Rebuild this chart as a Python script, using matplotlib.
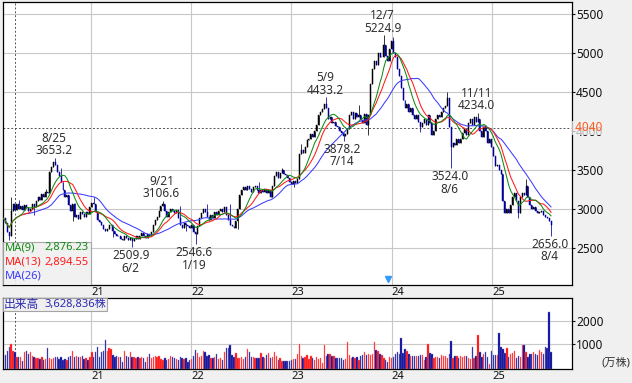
import numpy as np
import pandas as pd
import matplotlib
matplotlib.use('Agg')
import matplotlib.pyplot as plt
import matplotlib.transforms as mtransforms
from matplotlib.patches import Rectangle

plt.rcParams['font.family'] = ['Noto Sans', 'Noto Sans CJK JP']

# 週足データ（2020-02-17 週〜2025-08-04 週）
start = '2020-02-17'
close = [
    2880, 2820, 2700, 2660, 2980, 3060, 2990, 3060, 3000, 3040,
    2990, 3050, 3010, 2970, 3000, 3060, 3020, 3100, 3150, 3120,
    3190, 3160, 3220, 3200, 3480, 3540, 3600, 3570, 3480, 3420,
    3350, 3250, 3150, 3180, 3050, 2980, 3060, 2900, 2920, 2870,
    2960, 2930, 2900, 2960, 2940, 3020, 3080, 3060, 2960, 2860,
    2830, 2800, 2740, 2720, 2740, 2790, 2800, 2720, 2680, 2650,
    2660, 2620, 2600, 2660, 2630, 2600, 2630, 2590, 2620, 2660,
    2620, 2660, 2690, 2650, 2630, 2680, 2650, 2700, 2800, 2860,
    2900, 2980, 3040, 3060, 2980, 2900, 2960, 3000, 2980, 2950,
    2990, 2880, 2800, 2760, 2820, 2790, 2780, 2760, 2800, 2700,
    2680, 2780, 2880, 2950, 3000, 2960, 2900, 2860, 2920, 2880,
    2960, 2920, 2980, 3000, 2960, 3020, 2920, 2860, 2800, 2780,
    2760, 2850, 3000, 3180, 3240, 3280, 3250, 3300, 3260, 3220,
    3280, 3300, 3240, 3200, 3250, 3220, 3260, 3200, 3240, 3160,
    3300, 3420, 3480, 3400, 3460, 3500, 3450, 3440, 3400, 3350,
    3320, 3360, 3340, 3380, 3700, 3760, 3720, 3800, 3880, 3900,
    3960, 3920, 4000, 4080, 4200, 4250, 4280, 4350, 4300, 4150,
    4180, 4100, 4120, 4060, 4050, 4000, 3980, 3930, 3960, 4020,
    4200, 4250, 4160, 4230, 4180, 4200, 4140, 4100, 4220, 4080,
    4200, 4600, 4800, 4900, 4850, 5000, 4950, 4950, 5100, 4960,
    4900, 5050, 5150, 5000, 4950, 4800, 4700, 4550, 4400, 4300,
    4350, 4250, 4300, 4200, 4150, 4200, 4120, 4050, 4100, 4150,
    4080, 4200, 4100, 3950, 4000, 4150, 4200, 4180, 4250, 4300,
    4320, 4420, 4050, 3800, 3850, 3820, 3900, 3850, 3900, 3980,
    4020, 3950, 4100, 4150, 4080, 4180, 4120, 4150, 4000, 3920,
    4050, 4000, 3850, 3900, 3800, 3680, 3550, 3560, 3500, 3450,
    3100, 2950, 3000, 2950, 3050, 3150, 3200, 3100, 2950, 3150,
    3200, 3180, 3300, 3150, 3050, 3000, 3020, 2980, 2950, 2960,
    2980, 2920, 2900, 2880, 2850, 2790,
]

# 出来高（万株）
volume = [
    490, 490, 670, 860, 970, 670, 610, 420, 420, 420,
    220, 610, 670, 520, 610, 460, 420, 370, 340, 300,
    420, 270, 300, 820, 340, 300, 340, 400, 400, 310,
    420, 270, 300, 270, 420, 460, 670, 420, 460, 390,
    420, 460, 300, 340, 270, 400, 610, 420, 610, 860,
    420, 610, 670, 1160, 670, 790, 760, 490, 420, 460,
    400, 420, 190, 670, 460, 420, 640, 420, 420, 340,
    390, 340, 420, 340, 190, 420, 520, 370, 420, 450,
    400, 460, 310, 270, 370, 270, 300, 450, 400, 340,
    300, 270, 420, 340, 300, 340, 190, 270, 300, 460,
    720, 570, 420, 450, 670, 610, 460, 490, 370, 370,
    400, 520, 300, 370, 270, 640, 790, 820, 940, 490,
    420, 570, 370, 340, 420, 310, 420, 760, 640, 420,
    390, 340, 340, 340, 570, 420, 340, 490, 570, 340,
    420, 640, 460, 270, 340, 240, 240, 240, 240,
    220, 270, 310, 310, 520, 970, 450, 340, 420, 490, 310, 450, 340, 270,
    400,
    310, 340, 150, 940, 460, 520, 520, 450, 450, 340,
    380,
    370, 340, 270, 310, 1060, 490, 340, 420, 370, 420, 270, 450, 490,
    610, 490, 520, 490, 520, 1060, 720, 670, 520, 490, 370, 270, 190,
    420,
    340, 420, 520, 640, 520, 1270, 570, 760, 670, 520, 460, 450,
    450,
    450, 450, 490, 490, 270, 420, 980, 570, 520, 370, 400, 400, 340,
    500,
    450, 450, 370, 520, 1120, 370, 450, 450, 340, 450, 420, 450, 450,
    340, 310, 850, 340, 450, 1390, 640, 400, 550, 610, 400, 90, 670,
    490, 490, 490, 1460, 830, 760, 600, 800, 420, 520, 600, 670, 370,
    450, 400, 940, 940, 610, 400, 520, 520, 610, 520, 490, 700, 610,
    520, 850, 820, 2400, 610,
]

# 目立つ高値・安値（ヒゲ）
high_marks = {'2020-03-16': 3150, '2020-04-13': 3110, '2020-07-20': 3260,
              '2020-08-24': 3653.2, '2020-09-14': 3520, '2020-11-02': 3080,
              '2021-01-11': 3150, '2021-09-20': 3106.6, '2021-11-22': 3040,
              '2022-02-28': 3060, '2022-05-23': 3070, '2022-09-05': 3350,
              '2022-11-28': 3520, '2023-02-06': 3830, '2023-05-08': 4433.2,
              '2023-09-04': 4330, '2023-12-04': 5224.9, '2024-01-08': 5200,
              '2024-07-22': 4500, '2024-11-11': 4234.0, '2025-05-05': 3380}
low_marks = {'2020-03-09': 2600, '2020-06-08': 2920, '2020-10-26': 2850,
             '2021-03-22': 2640, '2021-05-31': 2509.9, '2021-12-13': 2720,
             '2022-01-17': 2546.6, '2022-06-20': 2740, '2023-01-09': 3280,
             '2023-07-10': 3878.2, '2023-10-09': 3950, '2024-04-15': 3990,
             '2024-08-05': 3524.0, '2025-04-07': 2880, '2025-08-04': 2656.0}

peaks = [('2020-08-24', '8/25', 3653.2), ('2021-09-20', '9/21', 3106.6),
         ('2023-05-08', '5/9', 4433.2), ('2023-12-04', '12/7', 5224.9),
         ('2024-11-11', '11/11', 4234.0)]
troughs = [('2021-05-31', '6/2', 2509.9), ('2022-01-17', '1/19', 2546.6),
           ('2023-07-10', '7/14', 3878.2), ('2024-08-05', '8/6', 3524.0),
           ('2025-08-04', '8/4', 2656.0)]

years = ['2021', '2022', '2023', '2024', '2025']
price_ticks = [2500, 3000, 3500, 4000, 4500, 5000, 5500]
ref_price = 4040
cursor_week = '2020-03-30'
event_week = '2023-12-18'

# ---- 計算 ----
dates = pd.date_range(start, periods=len(close), freq='7D')
c = np.array(close, dtype=float)
o = np.r_[c[0], c[:-1]]
hi = np.maximum(o, c)
lo = np.minimum(o, c)
for d, val in high_marks.items():
    k = dates.get_loc(pd.Timestamp(d))
    hi[k] = max(hi[k], val)
for d, val in low_marks.items():
    k = dates.get_loc(pd.Timestamp(d))
    lo[k] = min(lo[k], val)
up = c >= o

s = pd.Series(c)
ma9 = s.rolling(9, min_periods=1).mean()
ma13 = s.rolling(13, min_periods=1).mean()
ma26 = s.rolling(26, min_periods=12).mean()

# ---- 描画 ----
W, H = 632, 383
def rect(l, t, r, b):
    return [l / W, 1 - b / H, (r - l) / W, (b - t) / H]

fig = plt.figure(figsize=(6.32, 3.83), dpi=100, facecolor='#f0f0f0')
ax = fig.add_axes(rect(3, 2, 572, 285))
axv = fig.add_axes(rect(3, 298, 572, 369), sharex=ax)

grid_c = '#c8c8c8'
dash_c = '#555555'
fs = 8
year_ticks = pd.to_datetime([y + '-01-01' for y in years])
xmin = pd.Timestamp('2020-02-15 10:00')
xmax = pd.Timestamp('2025-10-19 10:00')

up_col = 'black'
dn_col = '#000096'
ccol = np.where(up, up_col, dn_col)

ax.vlines(dates, lo, hi, colors=ccol, lw=0.55, zorder=2)
ax.bar(dates, np.abs(c - o), bottom=np.minimum(o, c), width=3.6,
       color=ccol, edgecolor=ccol, lw=0.35, zorder=2)

ax.plot(dates, ma26, color='#3c3cff', lw=0.75, zorder=3)
ax.plot(dates, ma13, color='#ff1a1a', lw=0.75, zorder=3)
ax.plot(dates, ma9, color='#138a13', lw=0.75, zorder=3)

for lv in price_ticks:
    if lv != 4000:
        ax.axhline(lv, color=grid_c, lw=0.8, zorder=0)
for yt in year_ticks:
    ax.axvline(yt, color=grid_c, lw=0.8, zorder=0)
    axv.axvline(yt, color=grid_c, lw=0.8, zorder=0)
ax.axhline(ref_price, color=dash_c, lw=0.7, ls=(0, (2, 2)), zorder=1)
ax.axvline(pd.Timestamp(cursor_week), color=dash_c, lw=0.7, ls=(0, (2, 2)), zorder=1)
axv.axvline(pd.Timestamp(cursor_week), color=dash_c, lw=0.7, ls=(0, (2, 2)), zorder=1)

ax.set_xlim(xmin, xmax)
ax.set_ylim(2026, 5654)
ax.yaxis.tick_right()
ax.set_yticks(price_ticks)
ax.set_yticklabels([str(p) for p in price_ticks])
ax.tick_params(axis='y', length=2, pad=1, labelsize=fs + 0.5, colors='#111111')
ax.set_xticks(year_ticks)
ax.set_xticklabels([y[2:] for y in years], ha='left')
ax.tick_params(axis='x', length=0, pad=1.5, labelsize=fs, colors='#111111')

# 基準価格ラベル（4000 の目盛りに重なる）
trans_r = mtransforms.blended_transform_factory(ax.transAxes, ax.transData)
ax.text(1.0, ref_price, ' ' + str(ref_price), transform=trans_r, color='#ff5a1e',
        fontsize=fs + 0.5, va='center', ha='left', clip_on=False, zorder=9,
        bbox=dict(boxstyle='square,pad=0.05', facecolor='#f0f0f0',
                  edgecolor='none', alpha=0.75))

trans_b = mtransforms.blended_transform_factory(ax.transData, ax.transAxes)
ax.plot([pd.Timestamp(event_week)], [0.022], marker='v', ms=4.5, color='#3399ff',
        transform=trans_b, zorder=4, clip_on=False)

for d, lab, val in peaks:
    ax.annotate(f'{lab}\n{val:.1f}', xy=(pd.Timestamp(d), val), xytext=(-1, 0.5),
                textcoords='offset points', ha='center', va='bottom',
                fontsize=fs + 0.5, color='#303030', linespacing=0.95, zorder=6)
for d, lab, val in troughs:
    ax.annotate(f'{val:.1f}\n{lab}', xy=(pd.Timestamp(d), val), xytext=(-1, -1.5),
                textcoords='offset points', ha='center', va='top',
                fontsize=fs + 0.5, color='#303030', linespacing=0.95, zorder=6)

# MA 凡例ボックス
ax.add_patch(Rectangle((0, 0), 0.155, 0.152, transform=ax.transAxes,
                       facecolor='#f0f0f0', edgecolor='#a0a0a0', lw=0.8,
                       alpha=0.9, zorder=7))
legend_rows = [('MA(9)', '2,876.23', '#138a13', 0.131),
               ('MA(13)', '2,894.55', '#ff1a1a', 0.081),
               ('MA(26)', '', '#3c3cff', 0.032)]
for name, val, col, yy in legend_rows:
    ax.text(0.004, yy, name, transform=ax.transAxes, color=col, fontsize=fs,
            va='center', ha='left', zorder=8)
    ax.text(0.151, yy, val, transform=ax.transAxes, color=col, fontsize=fs,
            va='center', ha='right', zorder=8)

for sp in ax.spines.values():
    sp.set_color('black')
    sp.set_linewidth(0.9)

# 出来高
v = np.array(volume, dtype=float)
vbase = -130
vcol = np.where(up, '#ff0000', '#000096')
vedge = np.where(up, '#ff9090', '#8080c8')
axv.bar(dates, v - vbase, bottom=vbase, width=5.0, color=vcol, edgecolor=vedge,
        lw=0.3, zorder=2)
axv.axhline(1000, color=grid_c, lw=0.8, zorder=0)
axv.axhline(2000, color=grid_c, lw=0.8, zorder=0)
axv.set_ylim(vbase, 3040)
axv.yaxis.tick_right()
axv.set_yticks([1000, 2000])
axv.set_yticklabels(['1000', '2000'])
axv.tick_params(axis='y', length=2, pad=1, labelsize=fs + 0.5, colors='#111111')
axv.tick_params(axis='x', length=0, pad=1.5, labelsize=fs, colors='#111111')
for lab in axv.get_xticklabels():
    lab.set_ha('left')
for sp in axv.spines.values():
    sp.set_color('black')
    sp.set_linewidth(0.9)

axv.add_patch(Rectangle((0, 0.81), 0.183, 0.19, transform=axv.transAxes,
                        facecolor='#f0f0f0', edgecolor='#a0a0a0', lw=0.8,
                        alpha=0.95, zorder=7))
axv.text(0.002, 0.905, '出来高', transform=axv.transAxes, color='#2a2ab0',
         fontsize=fs + 0.5, va='center', ha='left', zorder=8)
axv.text(0.181, 0.905, '3,628,836株', transform=axv.transAxes, color='#2a2ab0',
         fontsize=fs, va='center', ha='right', zorder=8)

fig.text(616 / W, 1 - 363 / H, '(万株)', ha='center', va='center',
         fontsize=fs, color='#333333')

fig.savefig('out.png', dpi=100, facecolor=fig.get_facecolor())
